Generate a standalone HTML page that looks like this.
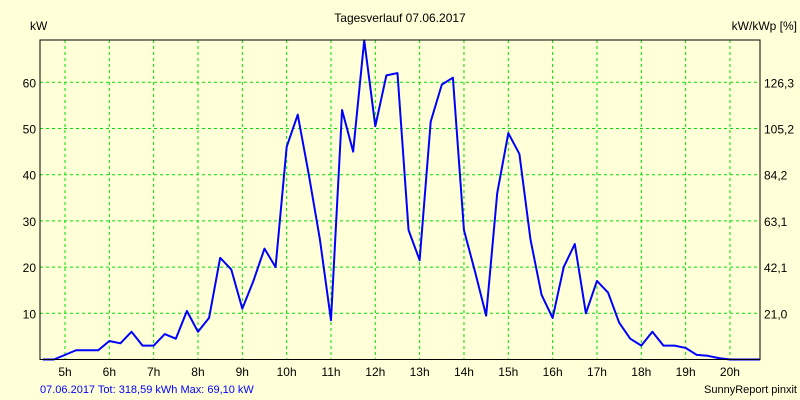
<!DOCTYPE html>
<html><head><meta charset="utf-8"><style>
body{margin:0;background:#ffffd8;}
svg{display:block;font-family:"Liberation Sans",sans-serif;font-size:12px;}
</style></head><body>
<svg width="800" height="400" xmlns="http://www.w3.org/2000/svg">
<rect width="800" height="400" fill="#ffffd8"/>
<text x="400" y="22" text-anchor="middle">Tagesverlauf 07.06.2017</text>
<text x="30" y="30">kW</text>
<text x="797" y="30" text-anchor="end">kW/kWp [%]</text>
<text x="40" y="393" fill="#0000ff" font-size="11">07.06.2017 Tot: 318,59 kWh Max: 69,10 kW</text>
<text x="797" y="393" text-anchor="end" font-size="11">SunnyReport pinxit</text>
<g id="grid"></g>
<g id="marks"></g>
<rect x="40" y="40" width="720" height="319.5" fill="none" stroke="#000" stroke-width="1"/>
<script>
const hours=[5,6,7,8,9,10,11,12,13,14,15,16,17,18,19,20];
const yTicks=[10,20,30,40,50,60];
const rightLabels=["21,0","42,1","63,1","84,2","105,2","126,3"];
const times=[4.5,4.75,5,5.25,5.5,5.75,6,6.25,6.5,6.75,7,7.25,7.5,7.75,8,8.25,8.5,8.75,9,9.25,9.5,9.75,10,10.25,10.5,10.75,11,11.25,11.5,11.75,12,12.25,12.5,12.75,13,13.25,13.5,13.75,14,14.25,14.5,14.75,15,15.25,15.5,15.75,16,16.25,16.5,16.75,17,17.25,17.5,17.75,18,18.25,18.5,18.75,19,19.25,19.5,19.75,20,20.25,20.5,20.68];
const power=[0,0,1,2,2,2,4,3.5,6,3,3,5.5,4.5,10.5,6,9,22,19.5,11,17,24,20,46,53,40,26,8.5,54,45,69.1,50.5,61.5,62,28,21.5,51.5,59.5,61,28,19,9.5,36,49,44.5,26,14,9,20,25,10,17,14.5,8,4.5,3,6,3,3,2.5,1,0.8,0.3,0,0,0,0];
const X=h=>65+(h-5)*44.33;
const Y=v=>359.5-v*4.62;
const ns="http://www.w3.org/2000/svg";
const svg=document.querySelector('svg'),grid=document.getElementById('grid'),marks=document.getElementById('marks');
function mk(t,a,p){const e=document.createElementNS(ns,t);for(const k in a)e.setAttribute(k,a[k]);p.appendChild(e);return e;}
hours.forEach(h=>{
 const l=mk('line',{x1:X(h),x2:X(h),y1:40,y2:359,stroke:'#00e000','stroke-dasharray':'3,3'},grid);
 
 
 const t=mk('text',{x:X(h),y:376,'text-anchor':'middle'},svg);t.textContent=h+'h';
 
 
});
yTicks.forEach((v,i)=>{
 const l=mk('line',{x1:40,x2:760,y1:Y(v),y2:Y(v),stroke:'#00e000','stroke-dasharray':'3,3'},grid);
 
 
 const t=mk('text',{x:36,y:Y(v)+5,'text-anchor':'end'},svg);t.textContent=v;
 
 
 const r=mk('text',{x:764,y:Y(v)+5},svg);r.textContent=rightLabels[i];
 
 
});
const pl=mk('polyline',{points:times.map((t,i)=>X(t)+','+Y(power[i])).join(' '),fill:'none',stroke:'#0000ff','stroke-width':2,'stroke-linejoin':'round'},marks);


</script>
</svg>
</body></html>
